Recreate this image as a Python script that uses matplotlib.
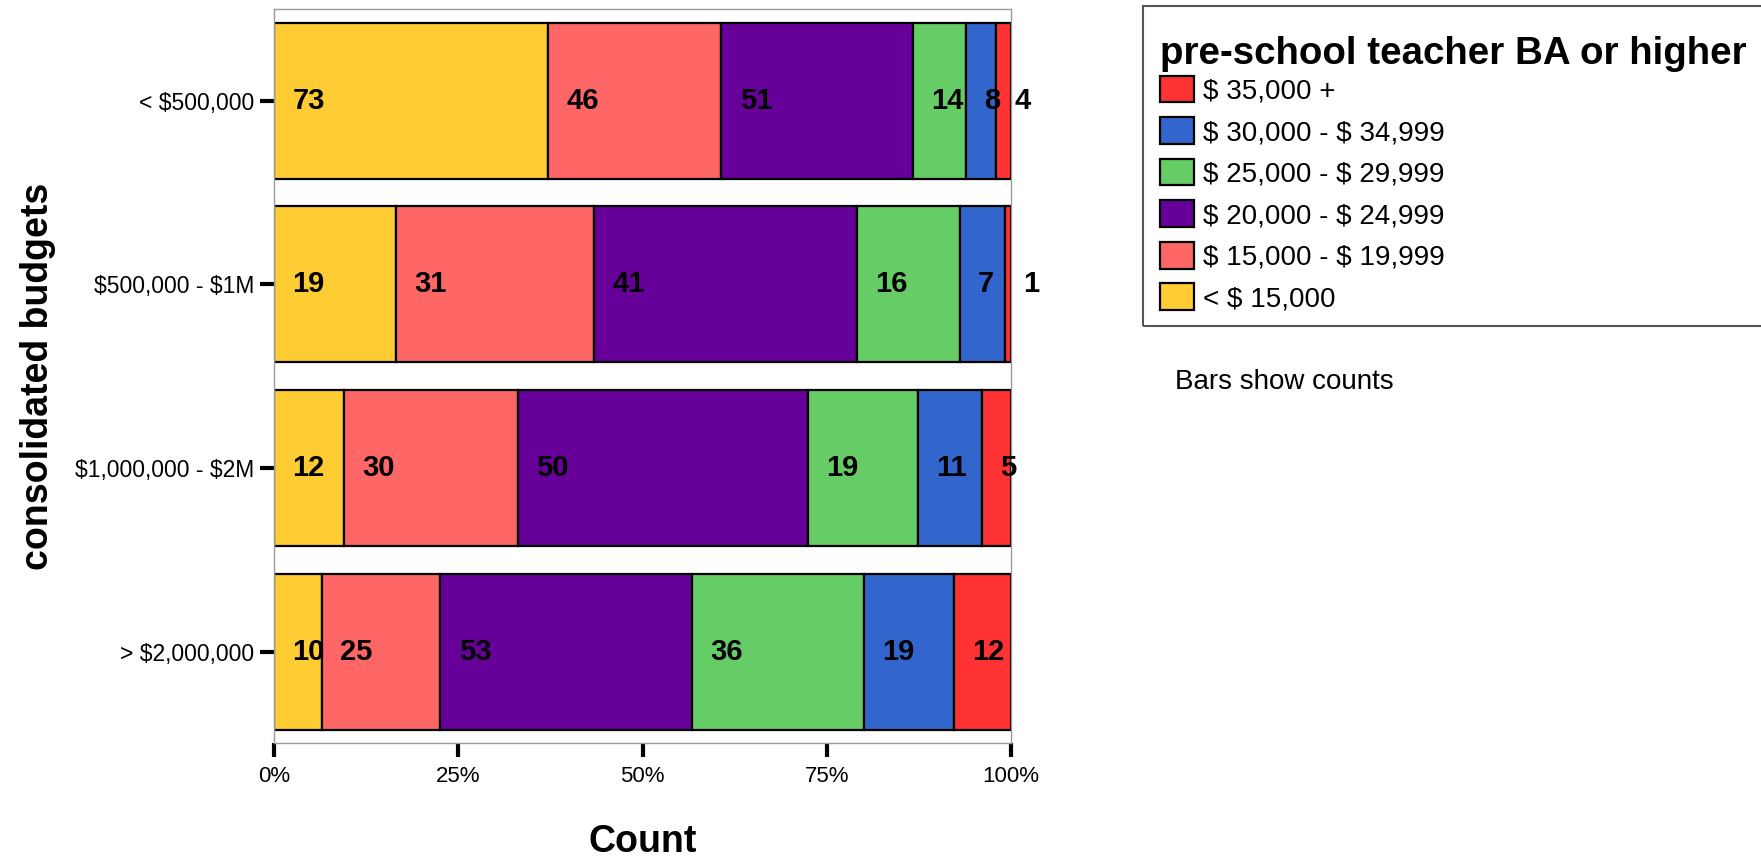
import matplotlib
matplotlib.use("Agg")
import matplotlib.pyplot as plt
import numpy as np
from matplotlib.patches import Patch, Rectangle

plt.rcParams["font.family"] = ["Liberation Sans", "DejaVu Sans"]
plt.rcParams["text.parse_math"] = False  # labels are full of "$"

budgets = ["< $500,000", "$500,000 - $1M", "$1,000,000 - $2M", "> $2,000,000"]
salary_bands = ["< $ 15,000", "$ 15,000 - $ 19,999", "$ 20,000 - $ 24,999",
                "$ 25,000 - $ 29,999", "$ 30,000 - $ 34,999", "$ 35,000 +"]
band_colors = ["#FFCC33", "#FF6666", "#660099", "#66CC66", "#3366CC", "#FF3333"]

# counts per budget row, one list per salary band (left to right)
under_15k = [73, 19, 12, 10]
k15_20 = [46, 31, 30, 25]
k20_25 = [51, 41, 50, 53]
k25_30 = [14, 16, 19, 36]
k30_35 = [8, 7, 11, 19]
over_35k = [4, 1, 5, 12]

counts = np.array([under_15k, k15_20, k20_25, k25_30, k30_35, over_35k], dtype=float)
shares = counts / counts.sum(axis=0)

fig = plt.figure(figsize=(17.61, 8.60), dpi=100)
ax = fig.add_axes([0.1556, 0.1355, 0.4185, 0.854])

ypos = np.arange(len(budgets))
left = np.zeros(len(budgets))
for i, (band, col) in enumerate(zip(salary_bands, band_colors)):
    ax.barh(ypos, shares[i], left=left, height=0.85, color=col,
            edgecolor="black", linewidth=1.6, zorder=2)
    for j in range(len(budgets)):
        ax.annotate(f"{int(counts[i, j])}", (left[j], ypos[j]), xytext=(13.2, 0),
                    textcoords="offset points", ha="left", va="center",
                    fontsize=21, fontweight="bold", color="black", zorder=3)
    left += shares[i]

ax.set_xlim(0, 1)
ax.set_ylim(len(budgets) - 0.5, -0.5)
ax.set_yticks(ypos)
ax.set_yticklabels(budgets, fontsize=16.5)
ax.set_xticks([0, 0.25, 0.5, 0.75, 1.0])
ax.set_xticklabels(["0%", "25%", "50%", "75%", "100%"], fontsize=16)
ax.tick_params(axis="y", length=10, width=3, pad=4, color="black")
ax.tick_params(axis="x", length=10, width=3, pad=6, color="black")
for sp in ax.spines.values():
    sp.set_color("#999999")
    sp.set_linewidth(1)

ax.set_xlabel("Count", fontsize=27, fontweight="bold", labelpad=27)
ax.set_ylabel("consolidated budgets", fontsize=27, fontweight="bold", labelpad=14)

# legend, top band first; title drawn separately to control the gap
fig.text(1160 / 1761, 1 - 54 / 860, "pre-school teacher BA or higher",
         fontsize=27.7, fontweight="bold", ha="left", va="center")
handles = [Patch(facecolor=c, edgecolor="black", linewidth=1.6)
           for c in band_colors[::-1]]
leg = fig.legend(handles, salary_bands[::-1], loc="upper left",
                 bbox_to_anchor=(0.6587, 0.912), frameon=False, fontsize=20,
                 handlelength=1.22, handleheight=1.1,
                 handletextpad=0.32, labelspacing=0.46, borderpad=0, borderaxespad=0)
fig.patches.append(Rectangle((1143 / 1761, 1 - 326 / 860), 0.4, 320 / 860,
                             transform=fig.transFigure, fill=False,
                             edgecolor="#555555", linewidth=1.5))

fig.text(1175 / 1761, 1 - 382 / 860, "Bars show counts", fontsize=20, va="center", ha="left")

fig.savefig("out.png", dpi=100)
